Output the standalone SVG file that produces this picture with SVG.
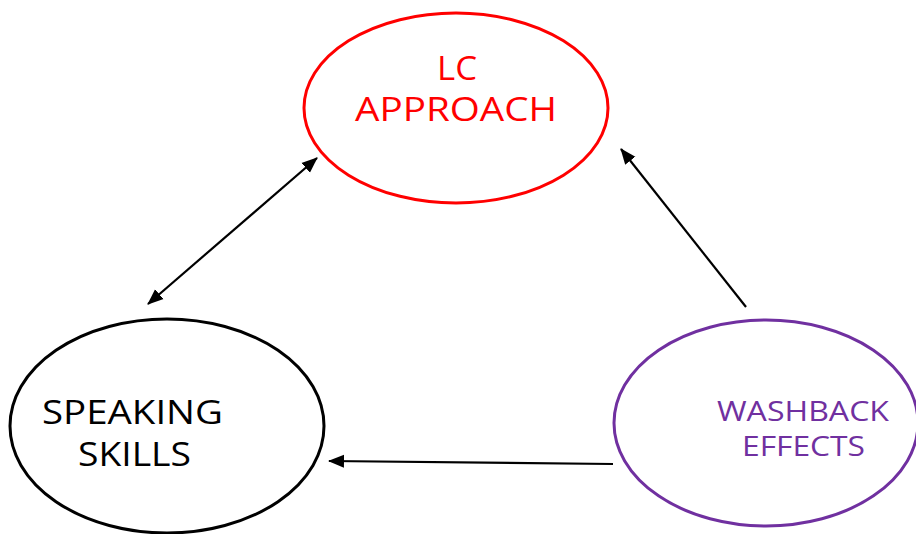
<svg xmlns="http://www.w3.org/2000/svg" width="916" height="534" viewBox="0 0 916 534">
<style>
.node{fill:#fff;stroke-width:3}
.lbl{font-family:"Open Sans","DejaVu Sans",sans-serif;font-size:32px}
.conn{stroke:#000;stroke-width:2.2;fill:none}
</style>
<defs>
<marker id="ah" markerUnits="userSpaceOnUse" markerWidth="16" markerHeight="14" refX="15" refY="6.5" orient="auto-start-reverse" viewBox="0 0 16 13">
<path d="M0,0 L16,6.5 L0,13 z" fill="#000"/>
</marker>
</defs>
<rect width="916" height="534" fill="#fff"/>
<g id="lc-approach">
<ellipse class="node" cx="456" cy="108" rx="152" ry="95" stroke="#FF0000"/>
<text class="lbl" fill="#FF0000" x="457" y="80" text-anchor="middle" textLength="40" lengthAdjust="spacingAndGlyphs">LC</text>
<text class="lbl" fill="#FF0000" x="355" y="121" textLength="202" lengthAdjust="spacingAndGlyphs">APPROACH</text>
</g>
<g id="speaking-skills">
<ellipse class="node" cx="167" cy="426" rx="157" ry="107" stroke="#000"/>
<text class="lbl" fill="#000" x="42" y="424" textLength="181" lengthAdjust="spacingAndGlyphs">SPEAKING</text>
<text class="lbl" fill="#000" x="78" y="466" textLength="113" lengthAdjust="spacingAndGlyphs">SKILLS</text>
</g>
<g id="washback-effects">
<ellipse class="node" cx="766" cy="423" rx="152" ry="103" stroke="#7030A0"/>
<text class="lbl" fill="#7030A0" style="font-size:28px" x="717" y="421" textLength="172" lengthAdjust="spacingAndGlyphs">WASHBACK</text>
<text class="lbl" fill="#7030A0" style="font-size:28px" x="742" y="456" textLength="123" lengthAdjust="spacingAndGlyphs">EFFECTS</text>
</g>
<g id="connectors">
<line class="conn" x1="148" y1="304" x2="317" y2="158" marker-start="url(#ah)" marker-end="url(#ah)"/>
<line class="conn" x1="746" y1="307" x2="621" y2="149" marker-end="url(#ah)"/>
<line class="conn" x1="613" y1="464" x2="329" y2="461" marker-end="url(#ah)"/>
</g>
</svg>
